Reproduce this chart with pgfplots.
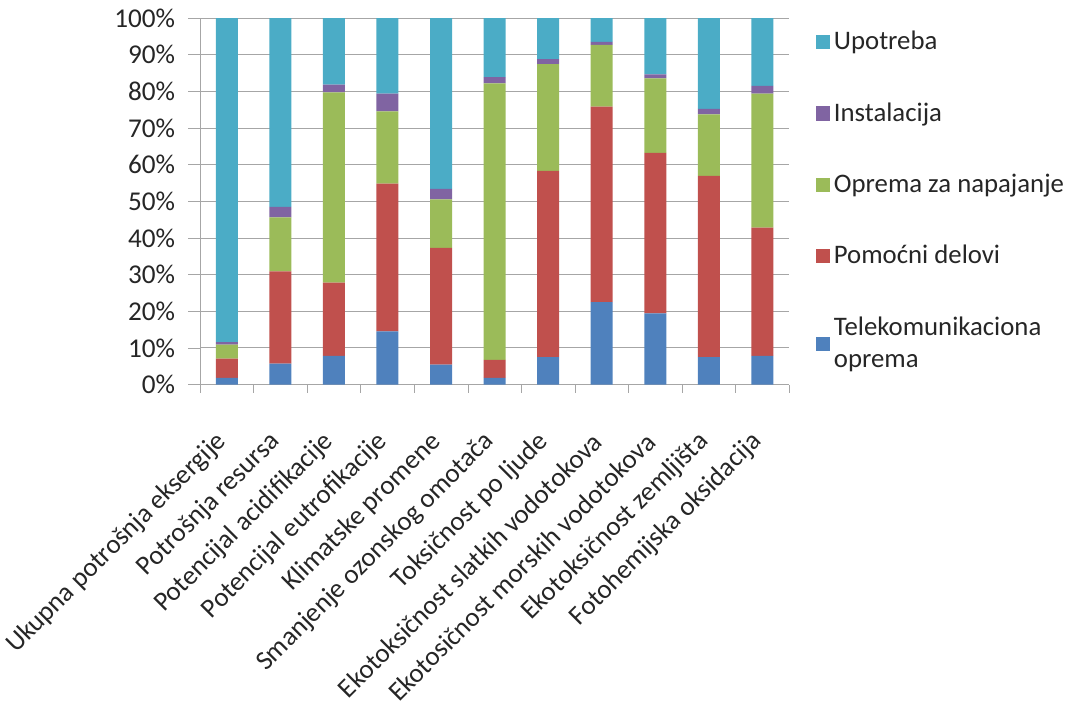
\documentclass[border=0pt]{standalone}
\usepackage{pgfplots}
\usepackage{pgfplotstable}
\pgfplotsset{compat=1.18}
\usepackage{fontspec}
\setmainfont{Carlito}

\definecolor{cTel}{HTML}{4F81BD}
\definecolor{cPom}{HTML}{C0504D}
\definecolor{cOpr}{HTML}{9BBB59}
\definecolor{cIns}{HTML}{8064A2}
\definecolor{cUpo}{HTML}{4BACC6}
\definecolor{axgray}{HTML}{A6A6A6}

% share of each life-cycle phase per impact category (%)
\pgfplotstableread{
x  tel   pom   opr   ins  upo
0  1.8   5.3   3.8   0.7  88.4
1  5.7   25.2  14.7  2.9  51.5
2  7.8   20.0  51.9  2.1  18.2
3  14.5  40.3  19.7  4.9  20.6
4  5.4   31.9  13.2  2.9  46.6
5  1.8   4.9   75.5  1.7  16.1
6  7.5   50.8  29.1  1.4  11.2
7  22.5  53.3  16.9  0.8  6.5
8  19.4  43.8  20.3  1.1  15.4
9  7.5   49.4  16.8  1.5  24.8
10 7.8   35.0  36.6  2.1  18.5
}\data

\pgfplotsset{sq/.style={legend image code/.code={\fill[##1] (0pt,-3.6pt) rectangle (7.2pt,3.6pt);}}}

\begin{document}
\fontsize{13}{15.6}\selectfont
\begin{tikzpicture}
\begin{axis}[
  scale only axis, width=295pt, height=183.5pt,
  ybar stacked, bar width=11pt,
  xmin=-0.5, xmax=10.5, ymin=0, ymax=100,
  xtick={0,...,10},
  xticklabels={Ukupna potrošnja eksergije, Potrošnja resursa, Potencijal acidifikacije,
    Potencijal eutrofikacije, Klimatske promene, Smanjenje ozonskog omotača,
    Toksičnost po ljude, Ekotoksičnost slatkih vodotokova, Ekotosičnost morskih vodotokova,
    Ekotoksičnost zemljišta, Fotohemijska oksidacija},
  major x tick style={draw=none},
  minor xtick={-0.5,0.5,...,10.5},
  ytick={0,10,...,100},
  yticklabel={\pgfmathprintnumber{\tick}\%},
  /pgf/number format/assume math mode=true,
  axis lines*=left,
  axis line style={axgray},
  tick style={axgray},
  tick align=outside,
  major tick length=6pt, minor tick length=4pt,
  ymajorgrids, grid style={axgray},
  xticklabel style={rotate=45, anchor=east, font=\fontsize{13.5}{16}\selectfont, text=black!85, inner sep=1pt, yshift=-13pt, xshift=-15pt},
  yticklabel style={font=\fontsize{13.6}{16}\selectfont, text=black!85, xshift=-2pt},
  reverse legend,
  legend style={at={(1,1)}, anchor=north west, xshift=10pt, yshift=-2.3pt, draw=none, fill=none,
    row sep=20.5pt, font=\fontsize{13.4}{16}\selectfont, text=black!85,
    cells={anchor=west, align=left}},
]
\addplot[fill=cTel, draw=none, sq] table[x=x, y=tel] {\data};
\addlegendentry{Telekomunikaciona\\oprema}
\addplot[fill=cPom, draw=none, sq] table[x=x, y=pom] {\data};
\addlegendentry{Pomoćni delovi}
\addplot[fill=cOpr, draw=none, sq] table[x=x, y=opr] {\data};
\addlegendentry{Oprema za napajanje}
\addplot[fill=cIns, draw=none, sq] table[x=x, y=ins] {\data};
\addlegendentry{Instalacija}
\addplot[fill=cUpo, draw=none, sq] table[x=x, y=upo] {\data};
\addlegendentry{Upotreba}
\end{axis}
\end{tikzpicture}
\end{document}
